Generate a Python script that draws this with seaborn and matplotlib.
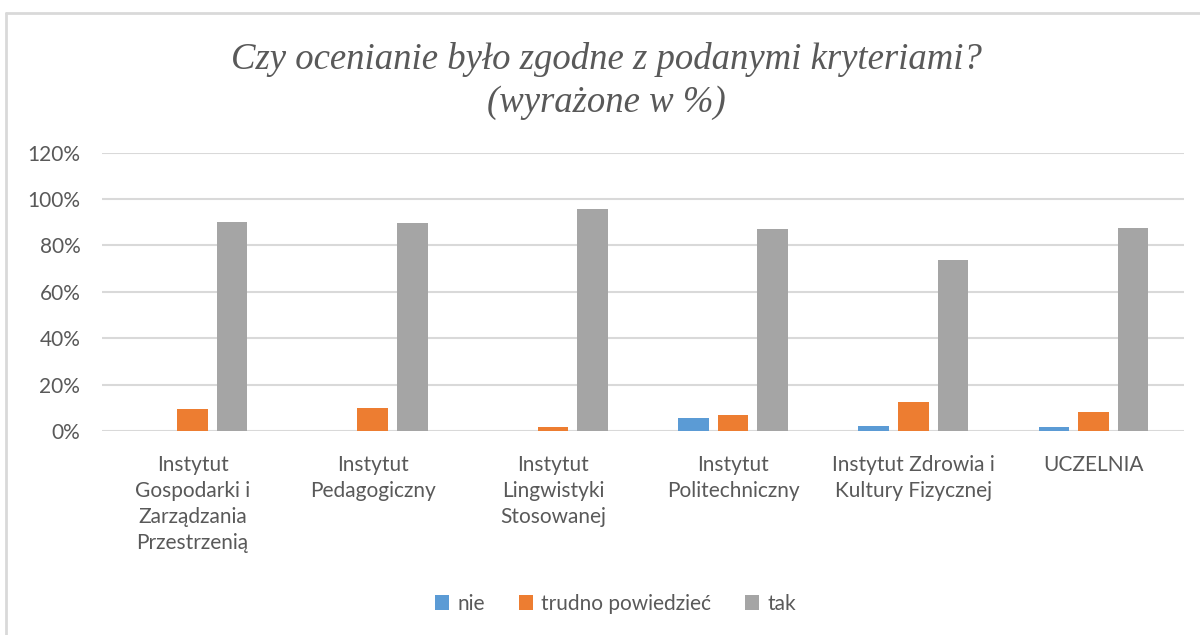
import matplotlib
matplotlib.use("Agg")
import matplotlib.pyplot as plt
import pandas as pd
import seaborn as sns
from matplotlib.ticker import PercentFormatter


# ---------------------------------------------------------
# Data (shares)
# ---------------------------------------------------------

categories = [
    "Instytut\nGospodarki i\nZarządzania\nPrzestrzenią",
    "Instytut\nPedagogiczny",
    "Instytut\nLingwistyki\nStosowanej",
    "Instytut\nPolitechniczny",
    "Instytut Zdrowia i\nKultury Fizycznej",
    "UCZELNIA",
]

series = ["nie", "trudno powiedzieć", "tak"]

nie = [0.0, 0.0, 0.0, 0.054, 0.020, 0.015]
trudno = [0.093, 0.099, 0.015, 0.067, 0.123, 0.083]
tak = [0.901, 0.897, 0.957, 0.869, 0.737, 0.874]

y_ticks = [0, 0.2, 0.4, 0.6, 0.8, 1.0, 1.2]

colors = ["#5B9BD5", "#ED7D31", "#A5A5A5"]
text_color = "#595959"
grid_color = "#D9D9D9"


# ---------------------------------------------------------
# Long table for seaborn
# ---------------------------------------------------------

rows = []
for name, values in zip(series, [nie, trudno, tak]):
    for cat, v in zip(categories, values):
        rows.append({"kategoria": cat, "odpowiedź": name, "udział": v})
df = pd.DataFrame(rows)


# ---------------------------------------------------------
# Plot
# ---------------------------------------------------------

sns.set_theme(style="white")
plt.rcParams["font.family"] = ["Lato", "DejaVu Sans"]

fig = plt.figure(figsize=(12, 6.35), dpi=100)
ax = fig.add_axes([0.0854, 0.3213, 0.9009, 0.4384])

sns.barplot(
    data=df,
    x="kategoria",
    y="udział",
    hue="odpowiedź",
    order=categories,
    hue_order=series,
    palette=colors,
    saturation=1,
    width=0.66,
    gap=0.23,
    linewidth=0,
    ax=ax,
)

ax.set_ylim(0, 1.2)
ax.set_yticks(y_ticks)
ax.yaxis.set_major_formatter(PercentFormatter(1.0, decimals=0))
ax.set_xlim(-0.5, len(categories) - 0.5)

ax.grid(axis="y", color=grid_color, linewidth=1.5)
ax.set_axisbelow(True)
for side in ["top", "right", "left", "bottom"]:
    ax.spines[side].set_visible(False)

ax.set_xlabel("")
ax.set_ylabel("")
ax.tick_params(axis="x", length=0, pad=17, labelsize=15, colors=text_color)
ax.tick_params(axis="y", length=0, pad=16, labelsize=15, colors=text_color)
for label in ax.get_xticklabels():
    label.set_linespacing(1.38)

sns.move_legend(
    ax,
    "center",
    bbox_to_anchor=(0.513, 1 - 604 / 635),
    bbox_transform=fig.transFigure,
    ncol=3,
    frameon=False,
    title=None,
    fontsize=15,
    handlelength=0.7,
    handleheight=0.7,
    handletextpad=0.4,
    columnspacing=1.6,
)
for t in ax.get_legend().get_texts():
    t.set_color(text_color)

fig.text(
    0.505,
    1 - 81 / 635,
    "Czy ocenianie było zgodne z podanymi kryteriami?\n(wyrażone w %)",
    ha="center",
    va="center",
    family=["Liberation Serif", "DejaVu Serif"],
    style="italic",
    fontsize=26.5,
    color=text_color,
    linespacing=1.3,
)

# light frame of the chart area (top and left edges only are visible)
fig.add_artist(plt.Line2D([6 / 1200, 1], [1 - 13 / 635, 1 - 13 / 635],
                          transform=fig.transFigure, color=grid_color, linewidth=2))
fig.add_artist(plt.Line2D([6 / 1200, 6 / 1200], [0, 1 - 13 / 635],
                          transform=fig.transFigure, color=grid_color, linewidth=2))

fig.savefig("out.png", dpi=100)
